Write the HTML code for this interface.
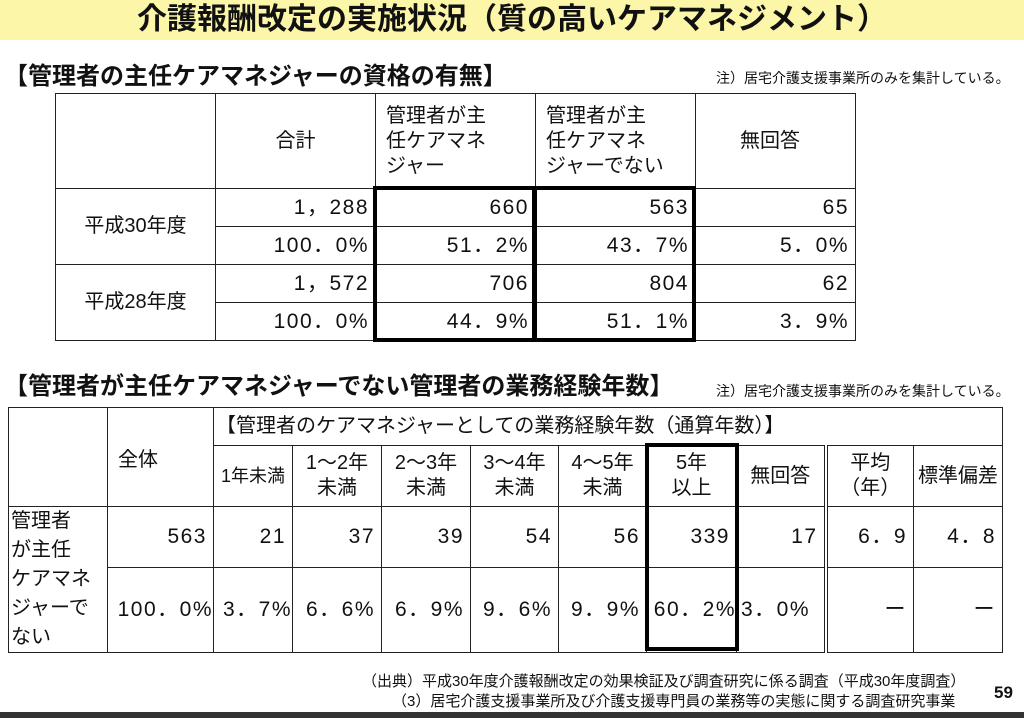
<!DOCTYPE html>
<html><head><meta charset="utf-8">
<style>
body{margin:0;width:1024px;height:718px;position:relative;background:#fff;overflow:hidden;font-family:"Liberation Sans","Noto Sans CJK JP",sans-serif;color:#111}
.abs{position:absolute}
table{border-collapse:collapse;position:absolute;table-layout:fixed}
td{border:1px solid #222;padding:0 6px;font-size:20px;line-height:25px;white-space:nowrap}
.r{text-align:right;font-size:21px;letter-spacing:1.5px}.c{text-align:center}
.box{position:absolute;border:4px solid #000;box-sizing:border-box}
</style></head><body>
<div class="abs" style="left:0;top:0;width:1024px;height:40px;background:#fcf6a8"></div>
<div class="abs" style="left:0;top:2px;width:1024px;text-align:center;font-size:30px;font-weight:bold;line-height:36px">介護報酬改定の実施状況（質の高いケアマネジメント）</div>
<div class="abs" style="left:4px;top:56px;font-size:24px;font-weight:bold">【管理者の主任ケアマネジャーの資格の有無】</div>
<div class="abs" style="left:716px;top:68px;font-size:14px">注）居宅介護支援事業所のみを集計している。</div>
<table style="left:55px;top:93px;width:800px">
<colgroup><col style="width:160px"><col style="width:160px"><col style="width:160px"><col style="width:160px"><col style="width:160px"></colgroup>
<tr style="height:95px"><td></td><td class="c" style="vertical-align:middle">合計</td><td style="padding-left:10px">管理者が主<br>任ケアマネ<br>ジャー</td><td style="padding-left:10px">管理者が主<br>任ケアマネ<br>ジャーでない</td><td style="padding-left:44px">無回答</td></tr>
<tr style="height:38px"><td rowspan="2" class="c">平成30年度</td><td class="r">1，288</td><td class="r">660</td><td class="r">563</td><td class="r">65</td></tr>
<tr style="height:38px"><td class="r">100．0%</td><td class="r">51．2%</td><td class="r">43．7%</td><td class="r">5．0%</td></tr>
<tr style="height:38px"><td rowspan="2" class="c">平成28年度</td><td class="r">1，572</td><td class="r">706</td><td class="r">804</td><td class="r">62</td></tr>
<tr style="height:38px"><td class="r">100．0%</td><td class="r">44．9%</td><td class="r">51．1%</td><td class="r">3．9%</td></tr>
</table>
<div class="box" style="left:373px;top:186px;width:163px;height:156px"></div>
<div class="box" style="left:533px;top:186px;width:163px;height:156px"></div>
<div class="abs" style="left:4px;top:366px;font-size:24px;font-weight:bold">【管理者が主任ケアマネジャーでない管理者の業務経験年数】</div>
<div class="abs" style="left:716px;top:381px;font-size:14px">注）居宅介護支援事業所のみを集計している。</div>
<table style="left:8px;top:407px;width:994px">
<colgroup><col style="width:99px"><col style="width:106px"><col style="width:79px"><col style="width:89px"><col style="width:89px"><col style="width:88px"><col style="width:88px"><col style="width:90px"><col style="width:89px"><col style="width:88px"><col style="width:89px"></colgroup>
<tr style="height:38px"><td rowspan="2"></td><td rowspan="2" style="vertical-align:top;padding-top:40px;padding-left:10px">全体</td><td colspan="9" style="padding-left:2px">【管理者のケアマネジャーとしての業務経験年数（通算年数）】</td></tr>
<tr style="height:61px"><td class="c" style="padding:0;font-size:18px">1年未満</td><td class="c">1～2年<br>未満</td><td class="c">2～3年<br>未満</td><td class="c">3～4年<br>未満</td><td class="c">4～5年<br>未満</td><td class="c">5年<br>以上</td><td class="c" style="border-right:4px double #222">無回答</td><td class="c">平均<br>（年）</td><td class="c" style="padding:0">標準偏差</td></tr>
<tr style="height:59px"><td rowspan="2" style="padding:0 2px;line-height:29px">管理者<br>が主任<br>ケアマネ<br>ジャーで<br>ない</td><td class="r">563</td><td class="r">21</td><td class="r">37</td><td class="r">39</td><td class="r">54</td><td class="r">56</td><td class="r">339</td><td class="r" style="border-right:4px double #222">17</td><td class="r">6．9</td><td class="r">4．8</td></tr>
<tr style="height:83px"><td class="r" style="padding:0">100．0%</td><td class="r" style="padding:0">3．7%</td><td class="r">6．6%</td><td class="r">6．9%</td><td class="r">9．6%</td><td class="r">9．9%</td><td class="r" style="padding:0">60．2%</td><td class="r" style="padding:0 4px;text-align:left;border-right:4px double #222">3．0%</td><td class="r">ー</td><td class="r">ー</td></tr>
</table>
<div class="box" style="left:645px;top:443px;width:94px;height:208px"></div>
<div class="abs" style="left:362px;top:670px;font-size:15px">（出典）平成30年度介護報酬改定の効果検証及び調査研究に係る調査（平成30年度調査）</div>
<div class="abs" style="left:392px;top:690px;font-size:15px">（3）居宅介護支援事業所及び介護支援専門員の業務等の実態に関する調査研究事業</div>
<div class="abs" style="left:994px;top:683px;font-size:17px;font-weight:bold">59</div>
<div class="abs" style="left:0;top:712px;width:1024px;height:6px;background:#333"></div>
</body></html>
